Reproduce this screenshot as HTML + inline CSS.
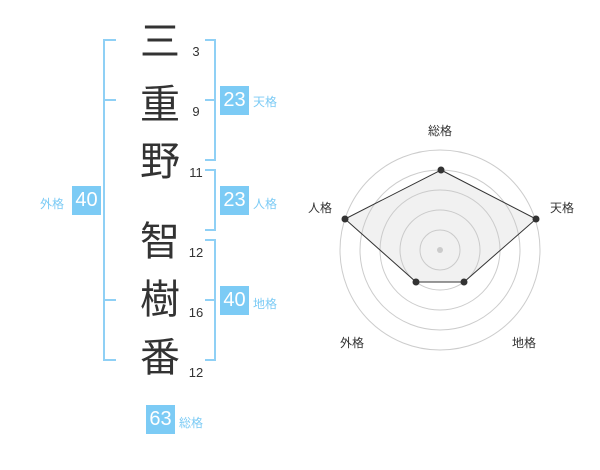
<!DOCTYPE html>
<html><head><meta charset="utf-8"><style>
body{margin:0;width:600px;height:470px;background:#fff;position:relative;font-family:"Liberation Sans","Noto Sans CJK JP",sans-serif;overflow:hidden}
.c{position:absolute;left:138px;width:44px;text-align:center;font-size:40px;line-height:44px;color:#333}
.n{position:absolute;left:184px;width:24px;text-align:center;font-size:13px;color:#333}
.b{position:absolute;width:29px;height:29px;background:#7ccbf5;color:#fff;font-size:20px;line-height:29px;text-align:center}
.l{position:absolute;font-size:12px;color:#7ccbf5;line-height:16px}
</style></head><body>
<svg width="600" height="470" style="position:absolute;left:0;top:0">
<g stroke="#8fd0f5" stroke-width="2" fill="none">
<path d="M116 40H104V360H116M104 100H116M104 300H116"/>
<path d="M205 40H215V160H205M205 100H215"/>
<path d="M205 170H215V230H205"/>
<path d="M205 240H215V360H205M205 300H215"/>
</g>
<g fill="none" stroke="#ccc" stroke-width="1">
<circle cx="440" cy="250" r="100"/><circle cx="440" cy="250" r="80"/><circle cx="440" cy="250" r="60"/><circle cx="440" cy="250" r="40"/><circle cx="440" cy="250" r="20"/>
</g>
<circle cx="440" cy="250" r="3" fill="#ccc"/>
<polygon points="441,170 536,219 464,282 416,282 345,219" fill="rgba(200,200,200,0.25)" stroke="#333" stroke-width="1"/>
<g fill="#333"><circle cx="441" cy="170" r="3.5"/><circle cx="536" cy="219" r="3.5"/><circle cx="464" cy="282" r="3.5"/><circle cx="416" cy="282" r="3.5"/><circle cx="345" cy="219" r="3.5"/></g>
<g font-size="12" fill="#333" text-anchor="middle" font-family="Liberation Sans, Noto Sans CJK JP, sans-serif">
<text x="440" y="135">総格</text><text x="562" y="212">天格</text><text x="320" y="212">人格</text><text x="524" y="347">地格</text><text x="352" y="347">外格</text>
</g>
</svg>
<div class="c" style="top:20px">三</div>
<div class="c" style="top:83px">重</div>
<div class="c" style="top:140px">野</div>
<div class="c" style="top:220px">智</div>
<div class="c" style="top:278px">樹</div>
<div class="c" style="top:336px">番</div>
<div class="n" style="top:44px">3</div>
<div class="n" style="top:104px">9</div>
<div class="n" style="top:165px">11</div>
<div class="n" style="top:245px">12</div>
<div class="n" style="top:305px">16</div>
<div class="n" style="top:365px">12</div>
<div class="b" style="left:220px;top:86px">23</div><div class="l" style="left:253px;top:94px">天格</div>
<div class="b" style="left:220px;top:186px">23</div><div class="l" style="left:253px;top:196px">人格</div>
<div class="b" style="left:220px;top:286px">40</div><div class="l" style="left:253px;top:296px">地格</div>
<div class="b" style="left:72px;top:186px">40</div><div class="l" style="left:40px;top:196px">外格</div>
<div class="b" style="left:146px;top:405px">63</div><div class="l" style="left:179px;top:415px">総格</div>
</body></html>
